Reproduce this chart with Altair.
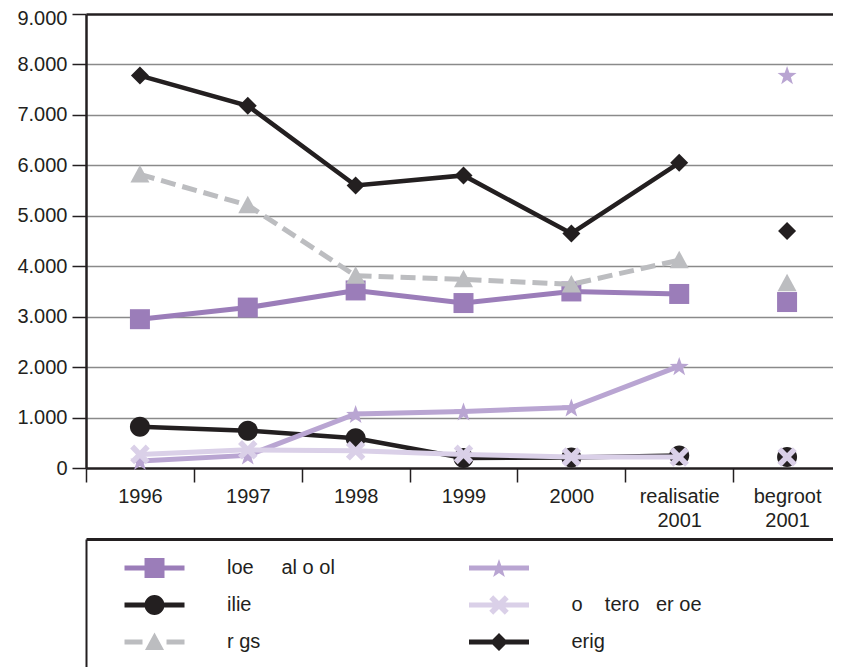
import json
import math
import altair as alt
import pandas as pd

# ---------------- data ----------------
categories = ["1996", "1997", "1998", "1999", "2000", "realisatie 2001", "begroot 2001"]
series_keys = ["vierkant", "cirkel", "driehoek", "ster", "kruis", "ruit"]
legend_labels = [
    "loe" + "\u00a0" * 5 + "al o ol",
    "ilie",
    "r gs",
    "",
    "\u00a0o" + "\u00a0" * 4 + "tero" + "\u00a0" * 3 + "er oe",
    "\u00a0\u00a0erig",
]
values_vierkant = [2950, 3180, 3520, 3270, 3500, 3450, 3290]
values_cirkel = [820, 740, 590, 200, 210, 250, 220]
values_driehoek = [5820, 5210, 3810, 3740, 3640, 4120, 3660]
values_ster = [140, 250, 1070, 1120, 1200, 2020, 7790]
values_kruis = [270, 360, 340, 270, 220, 220, 220]
values_ruit = [7780, 7180, 5600, 5800, 4650, 6050, 4700]
legend_col = [0, 0, 0, 1, 1, 1]
legend_row = [0, 1, 2, 0, 1, 2]

# ---------------- styles ----------------
colors = ["#9b7db9", "#231f20", "#bcbdc0", "#b9a5d2", "#dad0e8", "#231f20"]
line_widths = [5, 4.5, 5, 5, 5, 4.5]
line_dashes = [None, None, [15, 7], None, None, None]
FONT = "Liberation Sans"
TXT = "#231f20"
W = 747                 # visible plot width (page limits it)
BAND = 755 / 7          # category spacing of the reference
X_MAX = -0.5 + W / BAND  # last category column runs past the page edge


def poly(pts, s=1.0):
    return "M" + "L".join(f"{x * s:.3f},{y * s:.3f}" for x, y in pts) + "Z"


def circle(r):
    return (f"M{-r:.3f},0A{r:.3f},{r:.3f} 0 1,1 {r:.3f},0"
            f"A{r:.3f},{r:.3f} 0 1,1 {-r:.3f},0Z")


square_pts = [(-1, -1), (1, -1), (1, 1), (-1, 1)]
tri_pts = [(0, -0.95), (0.95, 0.8), (-0.95, 0.8)]
diam_pts = [(0, -0.9), (0.9, 0), (0, 0.9), (-0.9, 0)]
star_pts = []
for i in range(10):
    r = 1.0 if i % 2 == 0 else 0.4
    a = math.radians(-90 + 36 * i)
    star_pts.append((r * math.cos(a), r * math.sin(a) + 0.1))
L, w = 1.1, 0.28
plus = [(-w, -L), (w, -L), (w, -w), (L, -w), (L, w), (w, w), (w, L), (-w, L),
        (-w, w), (-L, w), (-L, -w), (-w, -w)]
x_pts = [((px - py) / math.sqrt(2), (px + py) / math.sqrt(2)) for px, py in plus]


def marker(k, s):
    if k == "cirkel":
        return circle(s)
    pts = {"vierkant": square_pts, "driehoek": tri_pts, "ster": star_pts,
           "kruis": x_pts, "ruit": diam_pts}[k]
    return poly(pts, s)


marker_paths = [marker(k, 1.0) for k in series_keys]

h = 0.083
bar = poly([(-1, -h), (1, -h), (1, h), (-1, h)])
dashbar = poly([(-1, -h), (-0.4, -h), (-0.4, h), (-1, h)]) + poly([(0.4, -h), (1, -h), (1, h), (0.4, h)])
legend_paths = [(dashbar if k == "driehoek" else bar) + marker(k, 1 / 3) for k in series_keys]

# ---------------- tables ----------------
all_values = [values_vierkant, values_cirkel, values_driehoek, values_ster, values_kruis, values_ruit]
rows = []
for k, vals in zip(series_keys, all_values):
    for i, (c, v) in enumerate(zip(categories, vals)):
        rows.append({"serie": k, "jaar": c, "pos": i, "waarde": v})
df = pd.DataFrame(rows)

leg_df = pd.DataFrame({"key": series_keys, "label": legend_labels,
                       "kol": legend_col, "rij": legend_row})

# ---------------- main chart ----------------
x_enc = alt.X(
    "pos:Q",
    scale=alt.Scale(domain=[-0.5, X_MAX], nice=False, zero=False),
    axis=alt.Axis(
        title=None, values=list(range(len(categories))),
        labelExpr=f"split({json.dumps(categories)}[datum.value], ' ')",
        labelAngle=0, labelFlush=False, labelOverlap=False,
        labelFont=FONT, labelFontSize=20, labelColor=TXT, labelBaseline="top",
        labelLineHeight=24, labelPadding=4,
        tickOffset=-BAND / 2, labelOffset=BAND / 2,
        tickSize=14, tickColor="#231f20", tickWidth=1.5,
        domain=False, grid=False,
    ),
)
y_enc = alt.Y(
    "waarde:Q",
    scale=alt.Scale(domain=[0, 9000], nice=False),
    axis=alt.Axis(
        title=None, values=list(range(0, 9001, 1000)),
        labelExpr="replace(format(datum.value, ','), ',', '.')",
        labelFont=FONT, labelFontSize=20, labelColor=TXT, labelPadding=5,
        labelOffset={"condition": {"test": "datum.value == 9000", "value": 4}, "value": 0},
        tickSize=14, tickColor="#231f20", tickWidth=1.5,
        domainColor="#231f20", domainWidth=2.5,
        grid=True,
        gridColor={"condition": {"test": "datum.value == 9000 || datum.value == 0", "value": "#231f20"},
                   "value": "#8a8a8a"},
        gridWidth={"condition": {"test": "datum.value == 9000 || datum.value == 0", "value": 2.5},
                   "value": 1.5},
    ),
)
color_enc = alt.Color("serie:N", scale=alt.Scale(domain=series_keys, range=colors), legend=None)
shape_enc = alt.Shape("serie:N", scale=alt.Scale(domain=series_keys, range=marker_paths), legend=None)

base = alt.Chart(df)
layers = []
for k, lw, dash in zip(series_keys, line_widths, line_dashes):
    line_kwargs = {"strokeWidth": lw}
    if dash:
        line_kwargs["strokeDash"] = dash
    ln = base.transform_filter(
        (alt.datum.serie == k) & (alt.datum.jaar != "begroot 2001")
    ).mark_line(**line_kwargs).encode(x=x_enc, y=y_enc, color=color_enc)
    pt = base.transform_filter(alt.datum.serie == k).mark_point(
        filled=True, size=400, opacity=1, strokeWidth=0
    ).encode(x=x_enc, y=y_enc, color=color_enc, shape=shape_enc)
    layers += [ln, pt]

main = alt.layer(*layers).properties(width=W, height=454)

# ---------------- legend panel ----------------
lx = alt.X("kol:O", scale=alt.Scale(type="point", domain=[0, 1], padding=0.5842, align=0.1702),
           axis=alt.Axis(orient="top", title=None, labels=False, ticks=False, grid=False,
                         domainColor="#231f20", domainWidth=3))
ly = alt.Y("rij:O", scale=alt.Scale(type="point", domain=[0, 1, 2], padding=0.73, align=0.537),
           axis=alt.Axis(orient="left", title=None, labels=False, ticks=False, grid=False,
                         domainColor="#231f20", domainWidth=2))
lbase = alt.Chart(leg_df)
leg_sym = lbase.mark_point(filled=True, size=3600, opacity=1, strokeWidth=0).encode(
    x=lx, y=ly,
    color=alt.Color("key:N", scale=alt.Scale(domain=series_keys, range=colors), legend=None),
    shape=alt.Shape("key:N", scale=alt.Scale(domain=series_keys, range=legend_paths), legend=None),
)
leg_txt = lbase.mark_text(align="left", baseline="middle", dx=72.5, font=FONT,
                          fontSize=20, color=TXT).encode(x=lx, y=ly, text="label:N")
legend = alt.layer(leg_sym, leg_txt).properties(width=W, height=128)

chart = alt.vconcat(main, legend, spacing=71, bounds="flush").resolve_scale(
    color="independent", shape="independent"
).properties(
    padding={"left": 8, "top": 0, "right": 0, "bottom": 0}
).configure_view(stroke=None)

chart.save("out.html", embed_options={"renderer": "svg", "actions": False})
